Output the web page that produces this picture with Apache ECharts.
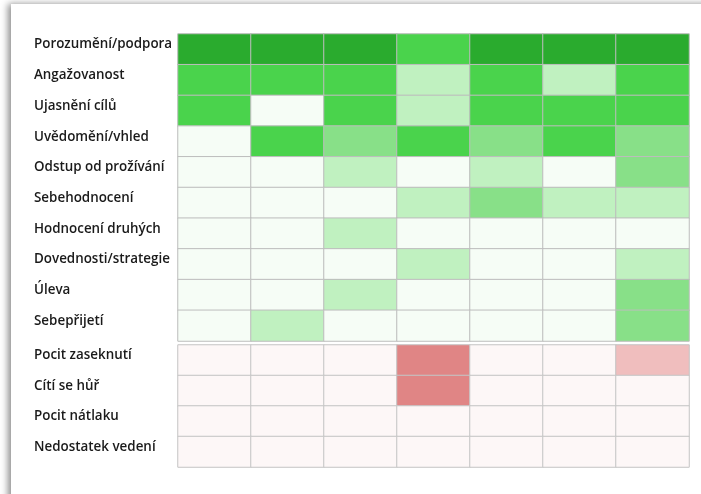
<!DOCTYPE html>
<html>
<head>
<meta charset="utf-8">
<script src="https://cdn.jsdelivr.net/npm/echarts@6/dist/echarts.min.js"></script>
<style>
  html, body { margin:0; padding:0; background:#fff; overflow:hidden; }
  #card { position:absolute; left:11px; top:4px; width:760px; height:560px; background:#fff;
          box-shadow:-3px 0 7px rgba(0,0,0,0.45); }
  #main { position:absolute; left:0; top:0; width:701px; height:494px; }
</style>
</head>
<body>
<div id="card"></div>
<div id="main"></div>
<script>
const columns = ['1','2','3','4','5','6','7'];
const positiveRows = ['Porozumění/podpora','Angažovanost','Ujasnění cílů','Uvědomění/vhled','Odstup od prožívání','Sebehodnocení','Hodnocení druhých','Dovednosti/strategie','Úleva','Sebepřijetí'];
const positiveValues = [
  [4,4,4,3,4,4,4],
  [3,3,3,1,3,1,3],
  [3,0,3,1,3,3,3],
  [0,3,2,3,2,3,2],
  [0,0,1,0,1,0,2],
  [0,0,0,1,2,1,1],
  [0,0,1,0,0,0,0],
  [0,0,0,1,0,0,1],
  [0,0,1,0,0,0,2],
  [0,1,0,0,0,0,2]
];
const negativeRows = ['Pocit zaseknutí','Cítí se hůř','Pocit nátlaku','Nedostatek vedení'];
const negativeValues = [
  [0,0,0,2,0,0,1],
  [0,0,0,2,0,0,0],
  [0,0,0,0,0,0,0],
  [0,0,0,0,0,0,0]
];
const greenColors = ['#f6fdf6','#c0f1c0','#88e088','#4ad34c','#2aab2e'];
const redColors = ['#fdf7f7','#f0bebe','#e08585'];

function toData(rows, vals){
  const d = [];
  vals.forEach((r, i) => r.forEach((v, j) => d.push([j, i, v])));
  return d;
}

const labelStyle = {
  align:'left', margin:144, color:'#1a1a1a', fontFamily:'Open Sans', fontWeight:600, fontSize:13.4,
  verticalAlign:'bottom', lineHeight:9.5
};

const chart = echarts.init(document.getElementById('main'), null, {renderer:'canvas'});
chart.setOption({
  animation:false,
  grid:[
    {left:178, top:34, width:511, height:307},
    {left:178, top:345, width:511, height:122}
  ],
  xAxis:[
    {type:'category', data:columns, gridIndex:0, show:false},
    {type:'category', data:columns, gridIndex:1, show:false}
  ],
  yAxis:[
    {type:'category', data:positiveRows, gridIndex:0, inverse:true, axisLine:{show:false}, axisTick:{show:false}, axisLabel:labelStyle},
    {type:'category', data:negativeRows, gridIndex:1, inverse:true, axisLine:{show:false}, axisTick:{show:false}, axisLabel:labelStyle}
  ],
  visualMap:[
    {type:'piecewise', show:false, seriesIndex:0, categories:[0,1,2,3,4],
     inRange:{color:greenColors}},
    {type:'piecewise', show:false, seriesIndex:1, categories:[0,1,2],
     inRange:{color:redColors}}
  ],
  series:[
    {type:'heatmap', xAxisIndex:0, yAxisIndex:0, data:toData(positiveRows, positiveValues),
     itemStyle:{borderColor:'#bdbdbd', borderWidth:1}, emphasis:{disabled:true}},
    {type:'heatmap', xAxisIndex:1, yAxisIndex:1, data:toData(negativeRows, negativeValues),
     itemStyle:{borderColor:'#c4c4c4', borderWidth:1}, emphasis:{disabled:true}}
  ]
});
</script>
</body>
</html>
